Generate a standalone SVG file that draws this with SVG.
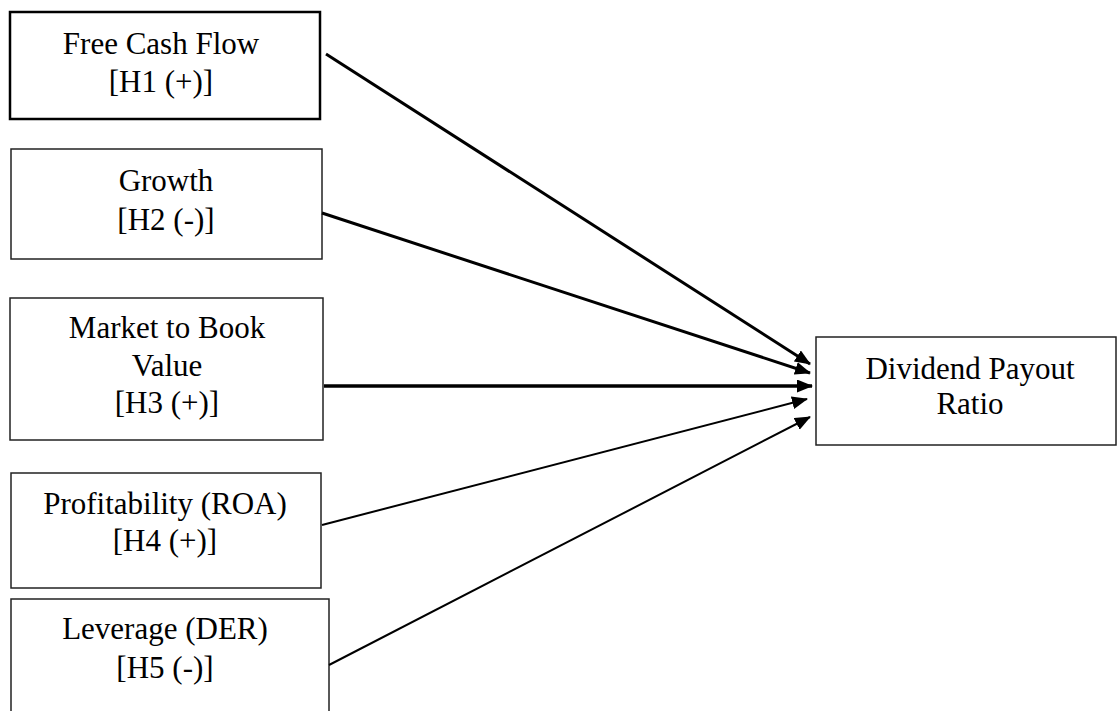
<svg xmlns="http://www.w3.org/2000/svg" width="1118" height="711" viewBox="0 0 1118 711">
<style>
.box{fill:#fff;stroke:#222;stroke-width:1.5}
.t{font-family:"Liberation Serif","Times New Roman",serif;font-size:31px;fill:#000;text-anchor:middle}
.c{stroke:#000;fill:none}
</style>
<defs>
<marker id="ah" markerUnits="userSpaceOnUse" markerWidth="18" markerHeight="14" refX="15" refY="6.5" orient="auto">
<path d="M0,0 L16,6.5 L0,13 z" fill="#000"/>
</marker>
</defs>
<rect width="1118" height="711" fill="#fff"/>
<g id="n1"><rect class="box" x="10" y="12" width="310" height="107" style="stroke:#000;stroke-width:2.5"/>
<text class="t" x="161" y="54">Free Cash Flow</text><text class="t" x="161" y="92">[H1 (+)]</text></g>
<g id="n2"><rect class="box" x="11" y="149" width="311" height="110"/>
<text class="t" x="166" y="191">Growth</text><text class="t" x="166" y="230">[H2 (-)]</text></g>
<g id="n3"><rect class="box" x="10" y="298" width="313" height="142"/>
<text class="t" x="167" y="338">Market to Book</text><text class="t" x="167" y="376">Value</text><text class="t" x="167" y="413">[H3 (+)]</text></g>
<g id="n4"><rect class="box" x="11" y="473" width="310" height="115"/>
<text class="t" x="165" y="514">Profitability (ROA)</text><text class="t" x="165" y="551">[H4 (+)]</text></g>
<g id="n5"><rect class="box" x="11" y="599" width="318" height="120"/>
<text class="t" x="165" y="639">Leverage (DER)</text><text class="t" x="165" y="678">[H5 (-)]</text></g>
<g id="n6"><rect class="box" x="816" y="337" width="300" height="108"/>
<text class="t" x="970" y="379">Dividend Payout</text><text class="t" x="970" y="414">Ratio</text></g>
<g id="connectors">
<line class="c" x1="326" y1="54" x2="810" y2="364" stroke-width="3" marker-end="url(#ah)"/>
<line class="c" x1="322" y1="213" x2="810" y2="373" stroke-width="3" marker-end="url(#ah)"/>
<line class="c" x1="324" y1="386" x2="812" y2="386" stroke-width="3.5" marker-end="url(#ah)"/>
<line class="c" x1="322" y1="525" x2="807" y2="399" stroke-width="2" marker-end="url(#ah)"/>
<line class="c" x1="329" y1="665" x2="810" y2="417" stroke-width="2" marker-end="url(#ah)"/>
</g>
</svg>
